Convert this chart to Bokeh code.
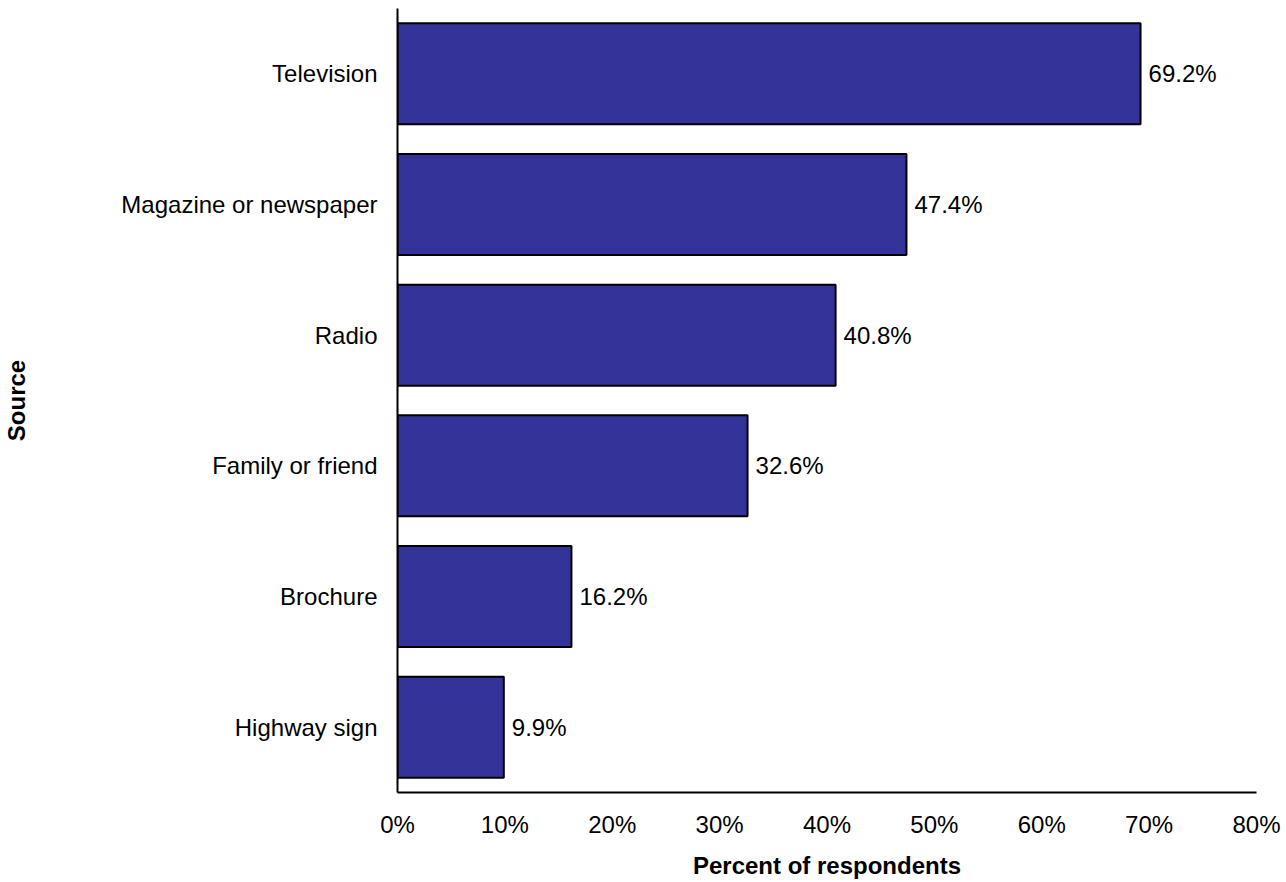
from bokeh.plotting import figure
from bokeh.models import ColumnDataSource, FixedTicker, PrintfTickFormatter, Range1d, FactorRange
from bokeh.core.properties import value
from bokeh.embed import file_html
from bokeh.resources import INLINE

categories = ["Television", "Magazine or newspaper", "Radio", "Family or friend", "Brochure", "Highway sign"]
percents = [69.2, 47.4, 40.8, 32.6, 16.2, 9.9]
labels = ["69.2%", "47.4%", "40.8%", "32.6%", "16.2%", "9.9%"]
x_ticks = [0, 10, 20, 30, 40, 50, 60, 70, 80]

FONT = "Liberation Sans"
BAR_COLOR = "#333399"

source = ColumnDataSource(dict(cat=categories, pct=percents, lab=labels))

p = figure(
    width=1286, height=882,
    y_range=FactorRange(factors=list(reversed(categories))),
    x_range=Range1d(0, 80),
    output_backend="svg", toolbar_location=None,
    min_border_left=397, min_border_right=30, min_border_top=8, min_border_bottom=90,
)
p.outline_line_color = None
p.xgrid.visible = False
p.ygrid.visible = False
p.background_fill_color = "white"
p.border_fill_color = "white"

p.hbar(y="cat", right="pct", left=0, height=0.773, source=source,
       fill_color=BAR_COLOR, line_color="black", line_width=2)

p.text(x="pct", y="cat", text="lab", source=source, x_offset=8,
       text_baseline="middle", text_align="left",
       text_font=value(FONT), text_font_size="24px", text_color="black")

xa = p.xaxis[0]
xa.ticker = FixedTicker(ticks=x_ticks)
xa.formatter = PrintfTickFormatter(format="%d%%")
xa.major_tick_line_color = None
xa.minor_tick_line_color = None
xa.major_tick_out = 0
xa.major_label_standoff = 18
xa.major_label_text_font = FONT
xa.major_label_text_font_size = "24px"
xa.major_label_text_color = "black"
xa.major_label_text_line_height = 1.0
xa.axis_line_color = "black"
xa.axis_line_width = 2
xa.axis_label = "Percent of respondents"
xa.axis_label_text_font = FONT
xa.axis_label_text_font_size = "24px"
xa.axis_label_text_font_style = "bold"
xa.axis_label_text_color = "black"
xa.axis_label_text_line_height = 1.0
xa.axis_label_standoff = 11

ya = p.yaxis[0]
ya.major_tick_line_color = None
ya.minor_tick_line_color = None
ya.major_tick_out = 0
ya.major_label_standoff = 20
ya.major_label_text_font = FONT
ya.major_label_text_font_size = "24px"
ya.major_label_text_color = "black"
ya.axis_line_color = "black"
ya.axis_line_width = 2
ya.axis_label = "Source"
ya.axis_label_text_font = FONT
ya.axis_label_text_font_size = "24px"
ya.axis_label_text_font_style = "bold"
ya.axis_label_text_color = "black"
ya.axis_label_standoff = 88

open("out.html", "w").write(file_html(p, INLINE))
